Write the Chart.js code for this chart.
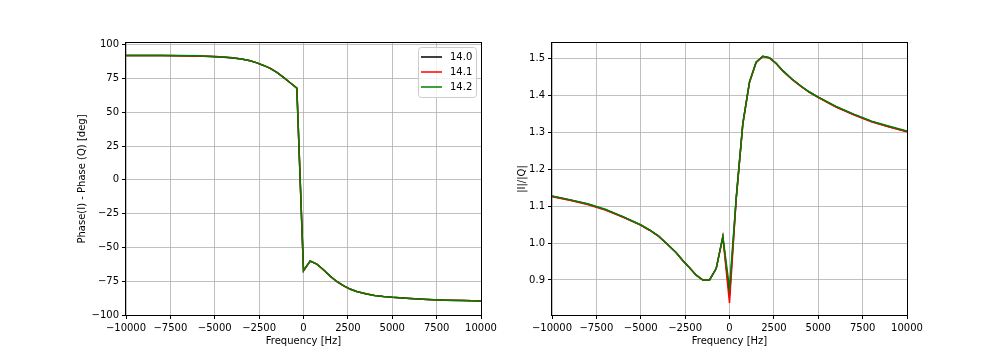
<!DOCTYPE html>
<html>
<head>
<meta charset="utf-8">
<script src="https://cdn.jsdelivr.net/npm/chart.js@4"></script>
<style>
  body { margin: 0; background: #fff; }
  #wrap { position: relative; width: 1008px; height: 360px; }
  canvas { position: absolute; top: 0; }
  #graficoFase { left: 0; }
  #graficoRatio { left: 504px; }
</style>
</head>
<body>
<div id="wrap">
  <canvas id="graficoFase" width="504" height="360"></canvas>
  <canvas id="graficoRatio" width="504" height="360"></canvas>
</div>
<script>
// ===============================
// DATA
// ===============================
const series = ["14.0", "14.1", "14.2"];
const colores = ["#000000", "#ff0000", "#008000"];

const freqs = [-10000, -9000, -8000, -7000, -6000, -5000, -4500, -4000, -3500, -3000,
  -2625, -2250, -1875, -1500, -1125, -750, -375, 0, 375, 750,
  1125, 1500, 1875, 2250, 2625, 3000, 3500, 4000, 4500, 5000,
  6000, 7000, 8000, 9000, 10000];

const fase140 = [92.1, 92.1, 92.0, 91.9, 91.7, 91.2, 90.8, 90.2, 89.4, 88.2,
  86.6, 84.7, 82.5, 79.5, 75.8, 71.9, 67.9, -67.2, -60.1, -62.3,
  -66.5, -71.2, -75.2, -78.3, -80.8, -82.6, -84.3, -85.5, -86.3, -86.9,
  -87.8, -88.5, -89.0, -89.3, -89.6];
const fase141 = [92.1, 92.1, 92.0, 91.9, 91.6, 91.3, 90.9, 90.3, 89.4, 88.2,
  86.6, 84.7, 82.5, 79.5, 75.8, 71.9, 67.9, -67.4, -60.0, -62.3,
  -66.6, -71.3, -75.3, -78.4, -80.9, -82.7, -84.3, -85.5, -86.3, -86.9,
  -87.8, -88.5, -89.0, -89.3, -89.6];
const fase142 = [92.1, 92.1, 92.0, 92.0, 91.8, 91.4, 90.9, 90.3, 89.4, 88.2,
  86.6, 84.7, 82.5, 79.5, 75.8, 71.9, 67.9, -67.0, -60.0, -62.3,
  -66.5, -71.2, -75.2, -78.3, -80.8, -82.6, -84.3, -85.5, -86.3, -86.9,
  -87.8, -88.5, -89.0, -89.3, -89.6];

const ratio140 = [1.127, 1.117, 1.106, 1.091, 1.071, 1.049, 1.035, 1.019, 0.997, 0.974,
  0.952, 0.933, 0.913, 0.900, 0.900, 0.931, 1.017, 0.858, 1.120, 1.324,
  1.437, 1.491, 1.507, 1.503, 1.488, 1.468, 1.446, 1.427, 1.410, 1.396,
  1.370, 1.349, 1.330, 1.316, 1.303];
const ratio141 = [1.126, 1.116, 1.105, 1.090, 1.071, 1.049, 1.035, 1.019, 0.997, 0.974,
  0.952, 0.933, 0.913, 0.900, 0.900, 0.931, 1.017, 0.838, 1.118, 1.322,
  1.436, 1.490, 1.506, 1.502, 1.487, 1.467, 1.445, 1.426, 1.409, 1.395,
  1.369, 1.348, 1.329, 1.315, 1.302];
const ratio142 = [1.128, 1.118, 1.107, 1.092, 1.072, 1.050, 1.036, 1.020, 0.997, 0.974,
  0.952, 0.933, 0.913, 0.900, 0.900, 0.931, 1.018, 0.878, 1.120, 1.324,
  1.437, 1.491, 1.507, 1.503, 1.488, 1.468, 1.446, 1.427, 1.410, 1.396,
  1.371, 1.350, 1.331, 1.317, 1.304];

const xTicks = [-10000, -7500, -5000, -2500, 0, 2500, 5000, 7500, 10000];
const faseTicks = [-100, -75, -50, -25, 0, 25, 50, 75, 100];
const ratioTicks = [0.9, 1.0, 1.1, 1.2, 1.3, 1.4, 1.5];

// ===============================
// HELPERS
// ===============================
Chart.defaults.font.family = "'DejaVu Sans', sans-serif";
Chart.defaults.font.size = 10;
Chart.defaults.color = "#000";

function menos(v) {
  return v < 0 ? "\u2212" + Math.abs(v) : String(v);
}

function puntos(ys) {
  return freqs.map((f, i) => ({ x: f, y: ys[i] }));
}

function datasets(listas) {
  return listas.map((ys, i) => ({
    label: series[i],
    data: puntos(ys),
    borderColor: colores[i],
    borderWidth: 1.5,
    pointRadius: 0,
    fill: false,
    tension: 0,
    order: listas.length - 1 - i
  }));
}

const marco = {
  id: "marco",
  afterDatasetsDraw(chart) {
    const { ctx, chartArea: a } = chart;
    ctx.save();
    ctx.strokeStyle = "#000";
    ctx.lineWidth = 1;
    ctx.strokeRect(Math.round(a.left) - 0.5, Math.round(a.top) - 0.5,
      Math.round(a.right - a.left) + 1, Math.round(a.bottom - a.top) + 1);
    ctx.restore();
  }
};

const leyenda = {
  id: "leyenda",
  afterDraw(chart) {
    const ctx = chart.ctx;
    const x = 418, y = 47, w = 58, h = 50;
    ctx.save();
    ctx.beginPath();
    ctx.roundRect(x + 0.5, y + 0.5, w, h, 3);
    ctx.fillStyle = "rgba(255,255,255,0.8)";
    ctx.fill();
    ctx.strokeStyle = "#cccccc";
    ctx.lineWidth = 1;
    ctx.stroke();
    chart.data.datasets.forEach((d, i) => {
      const ly = y + 10 + i * 15;
      ctx.beginPath();
      ctx.moveTo(x + 3, ly);
      ctx.lineTo(x + 24, ly);
      ctx.strokeStyle = d.borderColor;
      ctx.lineWidth = 1.5;
      ctx.stroke();
      ctx.fillStyle = "#000";
      ctx.font = "10px 'DejaVu Sans'";
      ctx.textBaseline = "middle";
      ctx.fillText(d.label, x + 32, ly);
    });
    ctx.restore();
  }
};

function ejeX() {
  return {
    type: "linear",
    min: -10000,
    max: 10000,
    afterBuildTicks: s => { s.ticks = xTicks.map(v => ({ value: v })); },
    afterFit: s => { s.height = 32; },
    ticks: { autoSkip: false, maxRotation: 0, padding: 3, callback: v => menos(v) },
    grid: { color: "#b0b0b0", lineWidth: 0.8, tickColor: "#000", tickLength: 4, tickWidth: 1 },
    border: { display: false },
    title: { display: true, text: "Frequency [Hz]", padding: 0 }
  };
}

function ejeY(min, max, tickList, fmt, titulo, ancho) {
  return {
    type: "linear",
    min: min,
    max: max,
    afterBuildTicks: s => { s.ticks = tickList.map(v => ({ value: v })); },
    afterFit: s => { s.width = ancho; },
    ticks: { autoSkip: false, padding: 3, callback: fmt },
    grid: { color: "#b0b0b0", lineWidth: 0.8, tickColor: "#000", tickLength: 4, tickWidth: 1 },
    border: { display: false },
    title: { display: true, text: titulo, padding: 0 }
  };
}

// ===============================
// CHARTS
// ===============================
new Chart(document.getElementById("graficoFase"), {
  type: "line",
  data: { datasets: datasets([fase140, fase141, fase142]) },
  options: {
    responsive: false,
    animation: false,
    layout: { padding: { left: 76, right: 23, top: 43, bottom: 13 } },
    plugins: { legend: { display: false }, tooltip: { enabled: false } },
    scales: {
      x: ejeX(),
      y: ejeY(-100, 101.3, faseTicks, v => menos(v), "Phase(I) - Phase (Q) [deg]", 50)
    }
  },
  plugins: [marco, leyenda]
});

new Chart(document.getElementById("graficoRatio"), {
  type: "line",
  data: { datasets: datasets([ratio140, ratio141, ratio142]) },
  options: {
    responsive: false,
    animation: false,
    layout: { padding: { left: 12, right: 101, top: 43, bottom: 13 } },
    plugins: { legend: { display: false }, tooltip: { enabled: false } },
    scales: {
      x: ejeX(),
      y: ejeY(0.805, 1.543, ratioTicks, v => v.toFixed(1), "|I|/|Q|", 36)
    }
  },
  plugins: [marco]
});
</script>
</body>
</html>
